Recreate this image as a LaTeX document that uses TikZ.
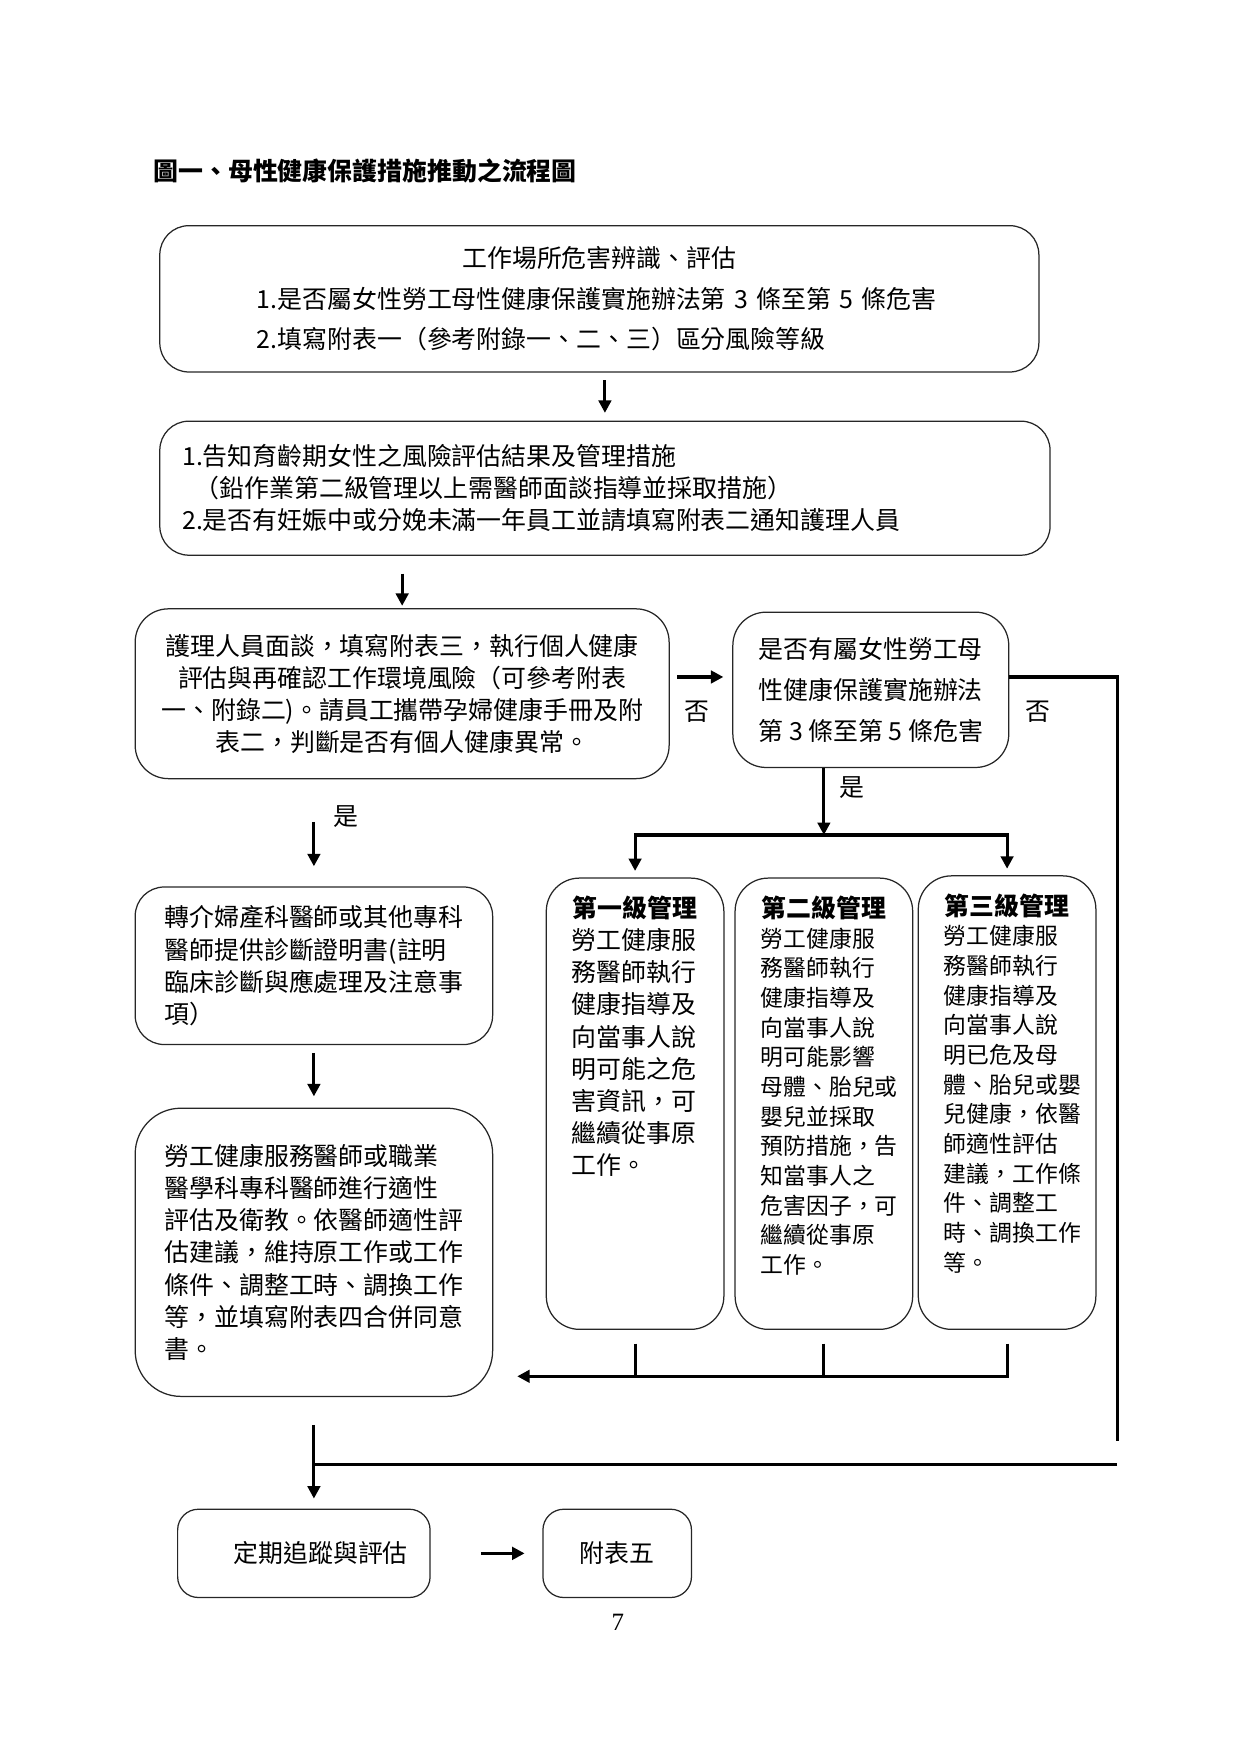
\documentclass[tikz,border=0pt]{standalone}
\usepackage{fontspec}
\setmainfont{Noto Sans CJK TC}
\newfontfamily\pagefont{Liberation Serif}
\usetikzlibrary{arrows.meta}
\tikzset{
  roundbox/.style={draw=black!85, line width=0.6pt, rounded corners=14pt, inner sep=0pt,
    font={\fontsize{12}{15.5}\selectfont}},
  flow/.style={line width=1.5pt, -{Triangle[length=6pt,width=6pt]}},
  rail/.style={line width=1.5pt},
  tag/.style={inner sep=0pt, font={\fontsize{12}{14}\selectfont}}
}
\newcommand{\tierbody}[3]{\parbox[c][#1][t]{2.138cm}{\vspace*{0.3cm}\centering
  {\bfseries\fontsize{12}{14}\selectfont #2}\par\raggedright #3}}

\begin{document}
\begin{tikzpicture}[x=0.018919cm, y=-0.018919cm]
  \useasboundingbox (0,0) rectangle (1110,1571);
  \node[anchor=west, inner sep=0pt, font={\bfseries\fontsize{12}{14}\selectfont}] (title) at (137,153) {圖一、母性健康保護措施推動之流程圖};

  \node[roundbox, minimum width=14.889cm, minimum height=2.478cm, text width=11.6cm, align=left,
    font={\fontsize{12}{19.6}\selectfont}] (hazard) at (536.5,267.5)
    {\makebox[\hsize]{工作場所危害辨識、評估}\\1.是否屬女性勞工母性健康保護實施辦法第 3 條至第 5 條危害\\2.填寫附表一（參考附錄一、二、三）區分風險等級};
  \node[roundbox, minimum width=15.078cm, minimum height=2.27cm, text width=14.32cm, align=left,
    font={\fontsize{12}{15.3}\selectfont}] (notify) at (541.5,437)
    {1.告知育齡期女性之風險評估結果及管理措施\\\hspace*{0.5em}（鉛作業第二級管理以上需醫師面談指導並採取措施）\\2.是否有妊娠中或分娩未滿一年員工並請填寫附表二通知護理人員};
  \node[roundbox, rounded corners=16pt, minimum width=9.043cm, minimum height=2.876cm, align=center,
    font={\fontsize{12}{15.4}\selectfont}] (nurse) at (360,621)
    {護理人員面談，填寫附表三，執行個人健康\\評估與再確認工作環境風險（可參考附表\\一、附錄二)。請員工攜帶孕婦健康手冊及附\\表二，判斷是否有個人健康異常。};
  \node[roundbox, rounded corners=16pt, minimum width=4.673cm, minimum height=2.63cm, align=center,
    font={\fontsize{12}{19.8}\selectfont}] (law) at (779.5,617.5)
    {是否有屬女性勞工母\\性健康保護實施辦法\\第 3 條至第 5 條危害};

  \node[roundbox, minimum width=6.054cm, minimum height=2.668cm, align=left] (referral) at (281,864.5)
    {轉介婦產科醫師或其他專科\\醫師提供診斷證明書(註明\\臨床診斷與應處理及注意事\\項）};
  \node[roundbox, rounded corners=22pt, minimum width=6.054cm, minimum height=4.881cm, align=left] (care) at (281,1121)
    {勞工健康服務醫師或職業\\醫學科專科醫師進行適性\\評估及衛教。依醫師適性評\\估建議，維持原工作或工作\\條件、調整工時、調換工作\\等，並填寫附表四合併同意\\書。};

  \node[roundbox, rounded corners=16pt, minimum width=3.008cm, minimum height=7.643cm] (tierone) at (568.5,988)
    {\tierbody{7.643cm}{第一級管理}{\fontsize{12}{15.5}\selectfont 勞工健康服\\務醫師執行\\健康指導及\\向當事人說\\明可能之危\\害資訊，可\\繼續從事原\\工作。}};
  \node[roundbox, rounded corners=16pt, minimum width=3.008cm, minimum height=7.643cm] (tiertwo) at (737.5,988)
    {\tierbody{7.643cm}{第二級管理}{\fontsize{11}{14.3}\selectfont 勞工健康服\\務醫師執行\\健康指導及\\向當事人說\\明可能影響\\母體、胎兒或\\嬰兒並採取\\預防措施，告\\知當事人之\\危害因子，可\\繼續從事原\\工作。}};
  \node[roundbox, rounded corners=16pt, minimum width=3.008cm, minimum height=7.681cm] (tierthree) at (901.5,987)
    {\tierbody{7.681cm}{第三級管理}{\fontsize{11}{14.3}\selectfont 勞工健康服\\務醫師執行\\健康指導及\\向當事人說\\明已危及母\\體、胎兒或嬰\\兒健康，依醫\\師適性評估\\建議，工作條\\件、調整工\\時、調換工作\\等。}};

  \node[roundbox, rounded corners=10pt, minimum width=4.276cm, minimum height=1.495cm] (follow) at (272,1390.5)
    {\hspace*{0.57cm}定期追蹤與評估};
  \node[roundbox, rounded corners=10pt, minimum width=2.516cm, minimum height=1.495cm] (tablefive) at (552.5,1390.5) {附表五};
  \node[inner sep=0pt, font={\pagefont\fontsize{12}{14}\selectfont}] (pagenum) at (553,1452) {7};

  \node[tag] (nolink) at (624,637) {否};
  \node[tag] (noexit) at (929,637) {否};
  \node[tag] (yestier) at (763,705) {是};
  \node[tag] (yesref) at (310,731) {是};

  \coordinate (back) at (463,1232);
  \coordinate (railtop) at (1000,1290);
  \coordinate (railend) at (1000,1311);

  \draw[flow, shorten <=0.13cm, shorten >=0.13cm] (hazard.south -| notify.north) -- (notify.north);
  \draw[flow, shorten <=0.3cm, shorten >=0.04cm] (notify.south -| nurse.north) -- (nurse.north);
  \draw[flow, shorten <=0.13cm, shorten >=0.15cm] ([yshift=0.284cm]nurse.east) -- ([yshift=0.284cm]nurse.east -| law.west);
  \draw[rail] ([yshift=0.218cm]law.east) -| (railtop);
  \draw[rail] (railend) -- (railend -| care.south);

  \draw[flow] (law.south -| tiertwo.north) -- ([yshift=0.72cm]tiertwo.north);
  \draw[flow, shorten >=0.11cm] ([yshift=0.72cm]tiertwo.north) -| (tierone.north);
  \draw[flow, shorten >=0.11cm] ([yshift=0.72cm]tiertwo.north) -| (tierthree.north);

  \draw[rail] ([yshift=-0.23cm]tierone.south) -- (tierone.south |- back);
  \draw[rail] ([yshift=-0.23cm]tiertwo.south) -- (tiertwo.south |- back);
  \draw[flow] ([yshift=-0.23cm]tierthree.south) |- (back);

  \draw[flow, shorten <=0.72cm, shorten >=0.34cm] (nurse.south -| referral.north) -- (referral.north);
  \draw[flow, shorten <=0.13cm, shorten >=0.19cm] (referral.south) -- (care.north);
  \draw[flow, shorten <=0.47cm, shorten >=0.17cm] (care.south) -- (care.south |- follow.north);
  \draw[flow, shorten <=0.85cm, shorten >=0.3cm] (follow.east) -- (tablefive.west);
\end{tikzpicture}
\end{document}
